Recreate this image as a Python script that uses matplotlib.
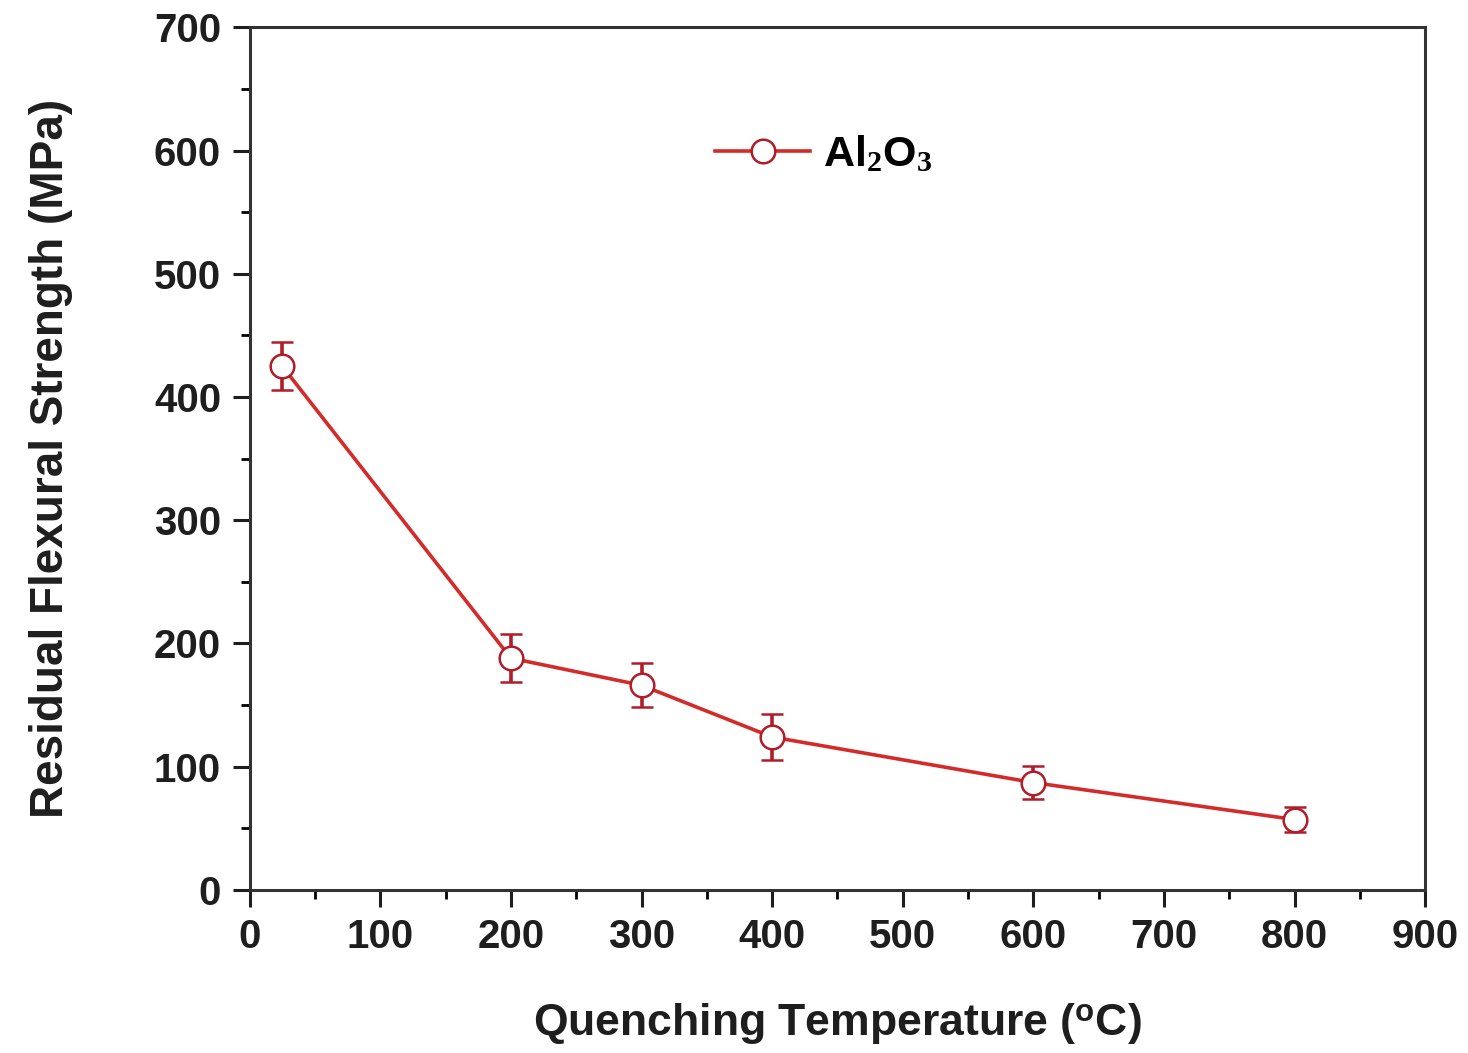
import matplotlib
matplotlib.use("Agg")
import matplotlib.pyplot as plt
from matplotlib.lines import Line2D
from matplotlib.ticker import MultipleLocator

plt.rcParams['font.family'] = ['Liberation Sans', 'DejaVu Sans']
plt.rcParams['font.weight'] = 'bold'
plt.rcParams['mathtext.fontset'] = 'custom'
plt.rcParams['mathtext.rm'] = 'Liberation Serif:bold'
plt.rcParams['mathtext.it'] = 'Liberation Serif:bold'
plt.rcParams['mathtext.sf'] = 'Liberation Sans:bold'

# data
temperature = [25, 200, 300, 400, 600, 800]
strength = [425, 188, 166, 124, 87, 57]
strength_err = [19.5, 19.5, 18, 19, 13.5, 10]

red = "#d42a2a"
dark_red = "#b01c28"
text_col = "#1e1e1e"

fig = plt.figure(figsize=(14.68, 10.53), dpi=100)
ax = fig.add_axes([0.170, 0.155, 0.801, 0.819])

ax.errorbar(temperature, strength, yerr=strength_err, color=red, lw=2.6,
            marker='o', markersize=17, markerfacecolor='white',
            markeredgecolor=dark_red, markeredgewidth=1.8,
            ecolor=dark_red, elinewidth=2.6, capsize=8, capthick=3)

ax.set_xlim(0, 900)
ax.set_ylim(0, 700)
ax.xaxis.set_major_locator(MultipleLocator(100))
ax.xaxis.set_minor_locator(MultipleLocator(50))
ax.yaxis.set_major_locator(MultipleLocator(100))
ax.yaxis.set_minor_locator(MultipleLocator(50))
ax.tick_params(which='major', direction='out', length=12.5, width=2.2,
               labelsize=29, pad=8, colors=text_col)
ax.tick_params(which='minor', direction='out', length=6.5, width=2)
for lbl in ax.get_xticklabels() + ax.get_yticklabels():
    lbl.set_fontweight('bold')
for s in ax.spines.values():
    s.set_linewidth(2.2)
    s.set_color('#333333')

ax.set_xlabel(r'Quenching Temperature ($^{\mathsf{o}}$C)', fontsize=32,
              fontweight='bold', labelpad=32, color=text_col)
ax.set_ylabel('Residual Flexural Strength (MPa)', fontsize=33,
              fontweight='bold', labelpad=58, color=text_col)

handle = Line2D([], [], color=red, lw=2.6, marker='o', markersize=17,
                markerfacecolor='white', markeredgecolor=dark_red,
                markeredgewidth=1.8)
ax.legend([handle], ['Al$_2$O$_3$'], loc='center left',
          bbox_to_anchor=(0.396, 0.852), frameon=False, fontsize=31,
          handlelength=2.2, handletextpad=0.3, borderpad=0, borderaxespad=0)

fig.savefig("out.png", dpi=100)
